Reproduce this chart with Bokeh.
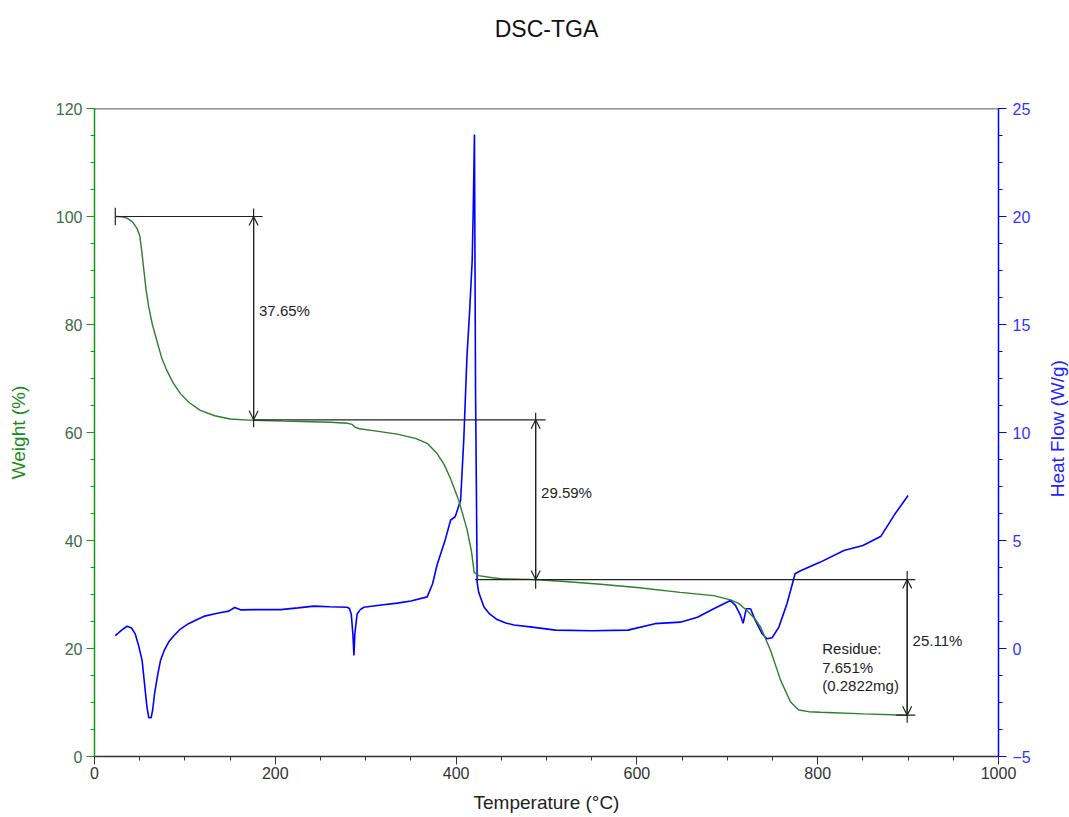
import math
from bokeh.plotting import figure
from bokeh.layouts import column, row
from bokeh.models import (Range1d, LinearAxis, SingleIntervalTicker, Span, Arrow, OpenHead)
from bokeh.core.properties import value
from bokeh.embed import file_html
from bokeh.resources import INLINE

# ---- data ----
tga_temp = [23, 30, 36, 42, 47, 50, 52, 54, 57, 60,
            64, 69, 74, 80, 87, 95, 105, 117, 133, 150,
            170, 209, 240, 261, 280, 285, 288, 293, 310, 335,
            355, 368, 379, 387, 394, 403, 412, 417, 420, 425,
            440, 452, 482, 520, 560, 600, 648, 685, 703.5, 712,
            722, 730, 737, 748, 759, 770, 779, 790, 803, 851,
            899]
tga_weight = [100, 99.95, 99.7, 99.0, 97.8, 96.5, 94, 91, 86.5, 83.2,
              80, 77, 74, 71.5, 69.2, 67.2, 65.5, 64.1, 63.1, 62.5,
              62.3, 62.1, 62.0, 61.9, 61.7, 61.5, 61.0, 60.7, 60.3, 59.7,
              58.9, 58.0, 56.1, 54.0, 51.4, 47.4, 42.1, 38, 34.1, 33.5,
              33.1, 32.9, 32.8, 32.4, 31.9, 31.3, 30.4, 29.8, 29.0, 28.4,
              27.0, 25.6, 23.9, 19.6, 14.1, 10.1, 8.6, 8.3, 8.2, 7.9,
              7.65]

dsc_temp = [23, 30, 36, 41, 45, 49, 52.7, 55, 58, 60,
            62.7, 64.5, 66.4, 70, 73, 77, 82, 88, 95, 104,
            113.6, 122, 132, 140, 148.6, 155, 161.5, 180, 206, 225,
            242.6, 260, 279.5, 282, 284, 285.8, 287, 288, 290.5, 294,
            298, 315, 335, 350, 368, 374, 379, 388, 394, 399,
            405, 408.5, 412, 415, 417.8, 419, 420.3, 421.5, 423.3, 425,
            430.7, 437, 445.4, 455, 464, 482, 510, 550, 590, 620,
            648, 667, 685, 703.5, 709, 714.6, 717.5, 721, 725.7, 731,
            738.6, 744, 749.6, 757, 766, 775, 781, 803, 829, 850,
            870, 885, 900]
dsc_heatflow = [0.6, 0.85, 1.03, 0.95, 0.68, 0.1, -0.56, -1.5, -2.7, -3.2,
                -3.2, -2.8, -2.1, -1.2, -0.56, -0.1, 0.3, 0.6, 0.9, 1.15,
                1.34, 1.5, 1.6, 1.67, 1.73, 1.9, 1.79, 1.8, 1.8, 1.88,
                1.96, 1.93, 1.91, 1.85, 1.6, 0.68, -0.32, 0.68, 1.6, 1.8,
                1.91, 2.0, 2.1, 2.2, 2.39, 3.0, 3.88, 5.04, 5.95, 6.1,
                6.86, 9.68, 13.5, 15.65, 17.96, 20.4, 23.8, 12, 3.05, 2.6,
                1.93, 1.6, 1.34, 1.18, 1.09, 1.0, 0.85, 0.82, 0.85, 1.15,
                1.22, 1.45, 1.84, 2.22, 2.0, 1.53, 1.17, 1.84, 1.84, 1.3,
                0.68, 0.45, 0.5, 0.99, 2.07, 3.46, 3.6, 4.0, 4.54, 4.77,
                5.2, 6.2, 7.08]

# step analysis
step_levels = [100, 62.35, 32.76, 7.65]          # weight %
step_arrow_temp = [176, 488, 899]                 # where arrows are drawn
step_line_start = [23, 176, 421]                  # horizontal level lines start
step_line_end = [186, 499, 908]
step_labels = ["37.65%", "29.59%", "25.11%"]
residue_lines = ["Residue:", "7.651%", "(0.2822mg)"]

title_text = "DSC-TGA"
right_axis_title = "Heat Flow (W/g)"

FONT = "Liberation Sans"
GREEN_AX = "#119911"
BLUE = "#0000ff"
BLACK = "#222222"

TITLE_H = 56
RIGHT_W = 30
W, H = 1069, 817


def blank_fig(w, h):
    f = figure(width=w, height=h, output_backend="svg", toolbar_location=None,
               x_range=Range1d(0, w), y_range=Range1d(0, h),
               min_border=0, x_axis_location=None, y_axis_location=None)
    f.grid.visible = False
    f.outline_line_color = None
    f.background_fill_color = "white"
    f.border_fill_color = "white"
    return f


# ---- title strip ----
tf = blank_fig(W, TITLE_H)
tf.text(x=[546], y=[TITLE_H - 28], text=[title_text], text_font=value(FONT),
        text_font_size="23px", text_color="#111111", text_align="center",
        text_baseline="middle")

# ---- main plot ----
p = figure(width=W - RIGHT_W, height=H - TITLE_H, output_backend="svg", toolbar_location=None,
           x_range=Range1d(0, 1000), y_range=Range1d(0, 120),
           min_border_left=94, min_border_right=71 - RIGHT_W,
           min_border_top=108 - TITLE_H, min_border_bottom=61,
           y_axis_location=None, x_axis_location=None)
p.extra_y_ranges = {"hf": Range1d(-5, 25)}
p.grid.visible = False
p.outline_line_color = None
p.background_fill_color = "white"
p.border_fill_color = "white"


def style_axis(ax, color, lab_color, lab_size="16px"):
    ax.axis_line_color = color
    ax.axis_line_width = 1.5
    ax.major_tick_line_color = color
    ax.minor_tick_line_color = color
    ax.major_tick_out = 8
    ax.major_tick_in = 0
    ax.minor_tick_out = 4
    ax.minor_tick_in = 0
    ax.major_label_text_font = FONT
    ax.major_label_text_font_size = lab_size
    ax.major_label_text_color = lab_color
    ax.axis_label_text_font = FONT
    ax.axis_label_text_font_style = "normal"
    ax.axis_label_text_font_size = "19px"


xax = LinearAxis(ticker=SingleIntervalTicker(interval=200, num_minor_ticks=4),
                 axis_label="Temperature (°C)")
style_axis(xax, "#333333", "#333333")
xax.axis_label_text_color = "#222222"
xax.major_label_standoff = 2
xax.axis_label_standoff = 10
p.add_layout(xax, "below")

lax = LinearAxis(ticker=SingleIntervalTicker(interval=20, num_minor_ticks=4),
                 axis_label="Weight (%)")
style_axis(lax, GREEN_AX, "#3d6b4a")
lax.axis_label_text_color = "#1a8a1a"
lax.major_label_standoff = 4
lax.axis_label_standoff = 24
p.add_layout(lax, "left")

rax = LinearAxis(y_range_name="hf", ticker=SingleIntervalTicker(interval=5, num_minor_ticks=4))
style_axis(rax, BLUE, "#3333ff")
rax.major_label_standoff = 6
p.add_layout(rax, "right")

p.add_layout(Span(location=120, dimension="width", line_color="#222222", line_width=1.5))

# curves
p.line(dsc_temp, dsc_heatflow, y_range_name="hf", line_color=BLUE, line_width=1.6)
p.line(tga_temp, tga_weight, line_color="#2a7f2a", line_width=1.4)

# horizontal level lines
p.segment(x0=step_line_start, y0=step_levels[:3], x1=step_line_end, y1=step_levels[:3],
          line_color=BLACK, line_width=1.2)
p.segment(x0=[step_arrow_temp[2] - 12], y0=[step_levels[3]], x1=[step_arrow_temp[2] + 9],
          y1=[step_levels[3]], line_color=BLACK, line_width=1.2)
# start tick
p.segment(x0=[step_line_start[0]], y0=[step_levels[0] - 1.6], x1=[step_line_start[0]],
          y1=[step_levels[0] + 1.6], line_color=BLACK, line_width=1.2)

# vertical double arrows
over_top = [1.5, 1.3, 1.6]
over_bot = [1.4, 1.7, 1.4]
for i in range(3):
    hi, lo = step_levels[i], step_levels[i + 1]
    t = step_arrow_temp[i]
    p.segment(x0=[t], y0=[lo - over_bot[i]], x1=[t], y1=[hi + over_top[i]],
              line_color=BLACK, line_width=1.2)
    p.add_layout(Arrow(x_start=t, y_start=(hi + lo) / 2, x_end=t, y_end=hi,
                       end=OpenHead(size=9, line_color=BLACK, line_width=1.2),
                       line_color=BLACK, line_width=1.2))
    p.add_layout(Arrow(x_start=t, y_start=(hi + lo) / 2, x_end=t, y_end=lo,
                       end=OpenHead(size=9, line_color=BLACK, line_width=1.2),
                       line_color=BLACK, line_width=1.2))

label_y = [82.6, 48.9, 21.5]
p.text(x=[t + 6 for t in step_arrow_temp], y=label_y, text=step_labels,
       text_font=value(FONT), text_font_size="15px", text_color=BLACK,
       text_baseline="middle", text_align="left")

res_y = [20.0, 16.5, 13.1]
p.text(x=[805] * 3, y=res_y, text=residue_lines,
       text_font=value(FONT), text_font_size="15px", text_color=BLACK,
       text_baseline="middle", text_align="left")

# ---- right axis title strip ----
rf = blank_fig(RIGHT_W, H - TITLE_H)
rf.text(x=[RIGHT_W - 12], y=[(H - TITLE_H) - (432 - TITLE_H)], text=[right_axis_title],
        angle=math.pi / 2, text_font=value(FONT), text_font_size="19px",
        text_color="#2222ff", text_align="center", text_baseline="middle")

layout = column(tf, row(p, rf, spacing=0), spacing=0)
open("out.html", "w").write(file_html(layout, INLINE))
